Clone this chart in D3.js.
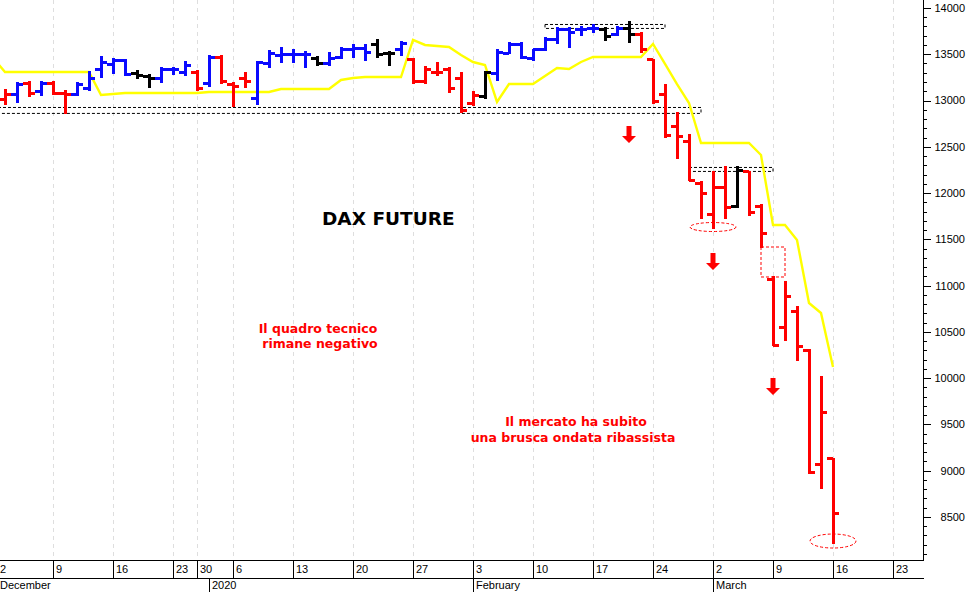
<!DOCTYPE html>
<html><head><meta charset="utf-8">
<script src="https://cdn.jsdelivr.net/npm/d3@7"></script>
<style>body{margin:0;background:#fff}svg{display:block}</style>
</head><body>
<svg id="c" width="972" height="592"></svg>
<script>
// ---------- data ----------
const dates = [
 "2019-12-02","2019-12-03","2019-12-04","2019-12-05","2019-12-06","2019-12-09","2019-12-10","2019-12-11","2019-12-12","2019-12-13",
 "2019-12-16","2019-12-17","2019-12-18","2019-12-19","2019-12-20","2019-12-23","2019-12-27","2019-12-30",
 "2020-01-02","2020-01-03","2020-01-06","2020-01-07","2020-01-08","2020-01-09","2020-01-10","2020-01-13","2020-01-14","2020-01-15",
 "2020-01-16","2020-01-17","2020-01-20","2020-01-21","2020-01-22","2020-01-23","2020-01-24","2020-01-27","2020-01-28","2020-01-29",
 "2020-01-30","2020-01-31",
 "2020-02-03","2020-02-04","2020-02-05","2020-02-06","2020-02-07","2020-02-10","2020-02-11","2020-02-12","2020-02-13","2020-02-14",
 "2020-02-17","2020-02-18","2020-02-19","2020-02-20","2020-02-21","2020-02-24","2020-02-25","2020-02-26","2020-02-27","2020-02-28",
 "2020-03-02","2020-03-03","2020-03-04","2020-03-05","2020-03-06","2020-03-09","2020-03-10","2020-03-11","2020-03-12","2020-03-13",
 "2020-03-16"];
const futureDates = ["2020-03-17","2020-03-18","2020-03-19","2020-03-20","2020-03-23"];

const open = [13100,13006,13060,13189,13092,13189,13081,13070,13135,13330,13384,13427,13297,13254,13243,13330,13308,13308,
 13189,13470,13168,13243,13027,13405,13481,13492,13492,13459,13405,13470,13546,13567,13600,13513,13546,13438,13200,13308,13330,13243,
 12973,13038,13297,13513,13600,13459,13546,13654,13762,13762,13773,13762,13708,13783,13708,13438,13060,12714,12552,12098,
 11763,12065,11850,12228,11850,11061,10542,10715,10304,9062,9127];
const high = [13135,13114,13189,13200,13200,13200,13103,13189,13308,13470,13449,13438,13319,13276,13351,13351,13416,13319,
 13481,13481,13189,13297,13416,13535,13567,13546,13524,13470,13513,13567,13600,13600,13654,13524,13632,13449,13362,13405,13351,13297,
 13092,13308,13546,13621,13621,13546,13675,13783,13783,13794,13816,13783,13794,13848,13729,13438,13168,12865,12627,12120,
 12228,12282,12282,12228,11871,11093,11039,10769,10304,10013,9127];
const low = [13000,12962,12984,13049,13060,13070,12865,13060,13114,13254,13297,13276,13243,13146,13200,13286,13276,13114,
 13157,13189,12941,13146,12962,13362,13416,13416,13362,13384,13384,13459,13470,13438,13470,13384,13492,13189,13189,13276,13092,12876,
 12951,13027,13222,13513,13459,13438,13546,13621,13578,13708,13740,13654,13708,13632,13524,12973,12606,12379,12141,11731,
 11622,11731,11850,11763,11417,10358,10412,10196,8976,8812,8219];
const close = [13060,13060,13168,13081,13189,13081,13070,13178,13243,13416,13427,13286,13265,13243,13330,13330,13373,13135,
 13470,13200,13146,13200,13416,13503,13492,13492,13492,13405,13459,13546,13567,13524,13492,13513,13611,13200,13330,13308,13135,12897,
 13049,13308,13524,13600,13470,13546,13654,13762,13740,13762,13783,13697,13773,13708,13546,12984,12627,12606,12141,11990,
 12065,11839,12249,11785,11568,10358,10877,10337,8976,9634,8542];
// trend signal colour of each bar: r = red, b = blue, k = black
const signal = ["r","r","b","r","b","r","r","b","b","b","b","b","k","k","b","b","b","r",
 "b","r","r","r","b","b","b","b","b","k","b","b","b","b","k","k","b","r","r","r","r","r",
 "r","k","b","b","b","b","b","b","b","b","b","k","b","k","r","r","r","r","r","r",
 "r","r","k","r","r","r","r","r","r","r","r"];
// yellow trailing line
const stopLine = [13459,13308,13308,13308,13308,13308,13308,13308,13308,13060,13070,13081,13081,13081,13081,13081,13081,13081,
 13092,13092,13092,13092,13092,13092,13124,13124,13124,13124,13124,13222,13243,13254,13254,13254,13254,13654,13600,13589,13578,13492,
 13416,13384,12984,13178,13178,13178,13265,13351,13340,13416,13470,13470,13470,13470,13470,13611,13395,13178,12973,12541,
 12541,12541,12541,12541,12411,11655,11655,11493,10812,10704,10120];

const dayTicks = ["2019-12-02","2019-12-09","2019-12-16","2019-12-23","2019-12-30","2020-01-06","2020-01-13","2020-01-20","2020-01-27",
 "2020-02-03","2020-02-10","2020-02-17","2020-02-24","2020-03-02","2020-03-09","2020-03-16","2020-03-23"];
const dayTickLabels = ["2","9","16","23","30","6","13","20","27","3","10","17","24","2","9","16","23"];
const monthTicks = ["2019-12-02","2020-01-02","2020-02-03","2020-03-02"];
const monthLabels = ["December","2020","February","March"];
const yMajor = [8500,9000,9500,10000,10500,11000,11500,12000,12500,13000,13500,14000];

// zones (dashed black double lines)
const zoneFrom = ["2019-12-02","2020-02-11","2020-02-27"];
const zoneTo   = ["2020-02-28","2020-02-25","2020-03-09"];
const zoneHi   = [12930,13827,12282];
const zoneLo   = [12866,13784,12239];
// red dashed ellipses
const ellDate = ["2020-03-02","2020-03-16"];
const ellVal  = [11633,8240];
// red down arrows
const arrowDate = ["2020-02-20","2020-03-02","2020-03-09"];
const arrowVal  = [12725,11352,10002];

// ---------- layout ----------
const W = 972, H = 592, plotR = 923, plotB = 560;
const svg = d3.select("#c");
const calendar = dates.concat(futureDates);
const x = d3.scalePoint().domain(calendar).range([-7, -7 + 12*(calendar.length-1)]);
const y = d3.scaleLinear().domain([8035, 14086]).range([plotB, 0]);
const col = {r:"#ff0000", b:"#0a0aff", k:"#000000"};

svg.append("defs").append("clipPath").attr("id","clip")
  .append("rect").attr("x",0).attr("y",0).attr("width",plotR).attr("height",plotB);

// grid
svg.append("g").selectAll("line").data(dayTicks).join("line")
  .attr("x1", d=>x(d)+0.5).attr("x2", d=>x(d)+0.5).attr("y1",0).attr("y2",plotB)
  .attr("stroke","#dedede").attr("stroke-dasharray","4,4");

const g = svg.append("g").attr("clip-path","url(#clip)");

// zones
const zones = zoneFrom.map((f,i)=>({f, t:zoneTo[i], hi:zoneHi[i], lo:zoneLo[i]}));
g.append("g").selectAll("rect").data(zones).join("rect")
  .attr("x", d=>x(d.f)).attr("y", d=>y(d.hi)+0.5)
  .attr("width", d=>x(d.t)-x(d.f)).attr("height", d=>y(d.lo)-y(d.hi))
  .attr("fill","none").attr("stroke","#000").attr("stroke-width",1).attr("stroke-dasharray","3,2");

// yellow line
g.append("path").datum(dates.map((d,i)=>[d, stopLine[i]]))
  .attr("d", d3.line().x(d=>x(d[0])).y(d=>y(d[1])))
  .attr("fill","none").attr("stroke","#ffff00").attr("stroke-width",2.4);

// OHLC bars
const bars = dates.map((d,i)=>({d, o:open[i], h:high[i], l:low[i], c:close[i], s:signal[i]}));
const bg = g.append("g").attr("shape-rendering","crispEdges");
const bar = bg.selectAll("g").data(bars).join("g").attr("stroke", d=>col[d.s]).attr("stroke-width",3);
bar.append("line").attr("x1",d=>x(d.d)).attr("x2",d=>x(d.d)).attr("y1",d=>y(d.h)-1).attr("y2",d=>y(d.l)+1);
bar.append("line").attr("x1",d=>x(d.d)-6).attr("x2",d=>x(d.d)).attr("y1",d=>y(d.o)).attr("y2",d=>y(d.o));
bar.append("line").attr("x1",d=>x(d.d)).attr("x2",d=>x(d.d)+6).attr("y1",d=>y(d.c)).attr("y2",d=>y(d.c));

// gap box
g.append("rect")
  .attr("x", x("2020-03-06")).attr("y", y(low[dates.indexOf("2020-03-06")]))
  .attr("width", x("2020-03-10")-x("2020-03-06"))
  .attr("height", y(high[dates.indexOf("2020-03-09")]) - y(low[dates.indexOf("2020-03-06")]))
  .attr("fill","none").attr("stroke","#ff0000").attr("stroke-dasharray","3,2");

// ellipses
g.append("g").selectAll("ellipse").data(ellDate.map((d,i)=>({d, v:ellVal[i], r:i?[23,7]:[23,4.5]}))).join("ellipse")
  .attr("cx", d=>x(d.d)).attr("cy", d=>y(d.v)).attr("rx", d=>d.r[0]).attr("ry", d=>d.r[1])
  .attr("fill","none").attr("stroke","#ff0000").attr("stroke-dasharray","3,2");

// arrows
g.append("g").selectAll("path").data(arrowDate.map((d,i)=>({d, v:arrowVal[i]}))).join("path")
  .attr("transform", d=>`translate(${x(d.d)},${y(d.v)})`)
  .attr("d","M-2.5,0 H2.5 V10 H7 L0,17 L-7,10 H-2.5 Z")
  .attr("fill","#ff0000");

// ---------- axes ----------
const ax = svg.append("g").attr("shape-rendering","crispEdges").attr("stroke","#000");
ax.append("line").attr("x1",0).attr("x2",plotR+0.5).attr("y1",plotB+0.5).attr("y2",plotB+0.5);
ax.append("line").attr("x1",0).attr("x2",plotR+0.5).attr("y1",578.5).attr("y2",578.5);
ax.append("line").attr("x1",plotR+0.5).attr("x2",plotR+0.5).attr("y1",0).attr("y2",plotB+0.5);

// y axis
const yMinor = d3.range(8100, 14100, 100).filter(v=>v%500!==0);
ax.selectAll(".ymin").data(yMinor).join("line").attr("class","ymin")
  .attr("x1",plotR).attr("x2",plotR+4).attr("y1",d=>Math.round(y(d))+0.5).attr("y2",d=>Math.round(y(d))+0.5);
ax.selectAll(".ymaj").data(yMajor).join("line").attr("class","ymaj")
  .attr("x1",plotR).attr("x2",plotR+8).attr("y1",d=>Math.round(y(d))+0.5).attr("y2",d=>Math.round(y(d))+0.5);
svg.append("g").selectAll("text").data(yMajor).join("text")
  .attr("x",965).attr("y",d=>y(d)).attr("dy","0.36em").attr("text-anchor","end")
  .attr("font-family","'Liberation Sans', Arial, sans-serif").attr("font-size",11).attr("fill","#000")
  .text(d=>d);

// x axis day ticks
ax.selectAll(".xd").data(dayTicks).join("line").attr("class","xd")
  .attr("x1",d=>x(d)+0.5).attr("x2",d=>x(d)+0.5).attr("y1",plotB).attr("y2",578);
svg.append("g").selectAll("text").data(dayTicks).join("text")
  .attr("x",d=>Math.max(0, x(d)+3)).attr("y",573)
  .attr("font-family","'Liberation Sans', Arial, sans-serif").attr("font-size",11).attr("fill","#000")
  .text((d,i)=>dayTickLabels[i]);
// month ticks
ax.selectAll(".xm").data(monthTicks).join("line").attr("class","xm")
  .attr("x1",d=>x(d)+0.5).attr("x2",d=>x(d)+0.5).attr("y1",578).attr("y2",H);
svg.append("g").selectAll("text").data(monthTicks).join("text")
  .attr("x",d=>Math.max(0, x(d)+3)).attr("y",589)
  .attr("font-family","'Liberation Sans', Arial, sans-serif").attr("font-size",11).attr("fill","#000")
  .text((d,i)=>monthLabels[i]);

// ---------- texts ----------
svg.append("text").attr("x",322).attr("y",225)
  .attr("font-family","'DejaVu Sans', Verdana, sans-serif").attr("font-weight","bold").attr("font-size",18.5)
  .attr("fill","#000").text("DAX FUTURE");
const red = [["Il quadro tecnico",318,333],["rimane negativo",320,348],
             ["Il mercato ha subito",576,426],["una brusca ondata ribassista",573,442]];
svg.append("g").selectAll("text").data(red).join("text")
  .attr("x",d=>d[1]).attr("y",d=>d[2]).attr("text-anchor","middle")
  .attr("font-family","'DejaVu Sans', Verdana, sans-serif").attr("font-weight","bold").attr("font-size",12.5)
  .attr("fill","#ff0000").text(d=>d[0]);
</script>
</body></html>
